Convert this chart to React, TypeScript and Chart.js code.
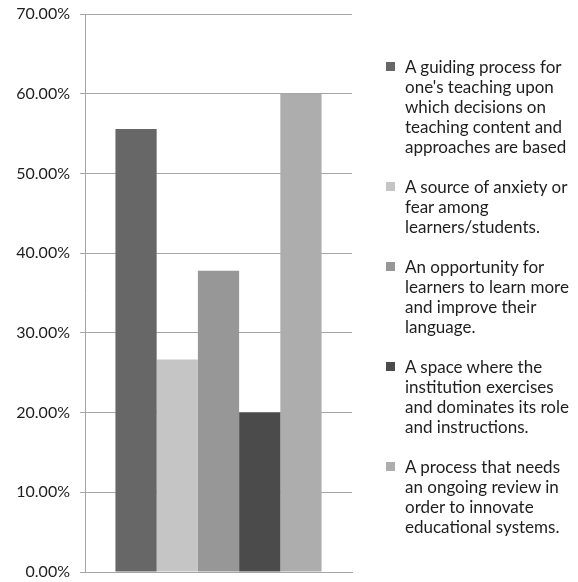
import React, { useEffect, useRef, useState } from "react";
import { Chart, registerables } from "chart.js";

Chart.register(...registerables);

const categories = [""];
const seriesLabels = [
  "A guiding process for\none's teaching upon\nwhich decisions on\nteaching content and\napproaches are based",
  "A source of anxiety or\nfear among\nlearners/students.",
  "An opportunity for\nlearners to learn more\nand improve their\nlanguage.",
  "A space where the\ninstitution exercises\nand dominates its role\nand instructions.",
  "A process that needs\nan ongoing review in\norder to innovate\neducational systems.",
];
const seriesValues = [55.56, 26.67, 37.78, 20.0, 60.0];
const seriesColors = ["#676767", "#c4c5c4", "#979797", "#4b4b4b", "#adadad"];
const yTicks = [0, 10, 20, 30, 40, 50, 60, 70];

const FONT = "Lato, 'DejaVu Sans', sans-serif";
const TEXT = "#1e1e1e";
const GRID = "#a6a6a6";

export default function App() {
  const ref = useRef<HTMLCanvasElement | null>(null);
  const [items, setItems] = useState<{ text: string; color: string }[]>([]);

  useEffect(() => {
    if (!ref.current) return;
    const chart = new Chart(ref.current, {
      type: "bar",
      data: {
        labels: categories,
        datasets: seriesLabels.map((label, i) => ({
          label,
          data: [seriesValues[i]],
          backgroundColor: seriesColors[i],
          borderWidth: 0,
          barPercentage: 1,
          categoryPercentage: 0.772,
        })),
      },
      options: {
        animation: false,
        responsive: false,
        devicePixelRatio: 1,
        layout: { padding: { top: 14, right: 226, bottom: 10, left: 0 } },
        plugins: {
          legend: { display: false },
          tooltip: { enabled: false },
        },
        scales: {
          x: {
            grid: { display: false },
            border: { display: true, color: GRID, width: 1 },
            ticks: { display: false },
            afterFit: (scale: any) => {
              scale.height = 0;
              scale.paddingLeft = 0;
              scale.paddingRight = 0;
            },
          },
          y: {
            min: 0,
            max: 70,
            afterFit: (scale: any) => {
              scale.width = 85;
              scale.paddingTop = 0;
              scale.paddingBottom = 0;
            },
            afterBuildTicks: (scale: any) => {
              scale.ticks = yTicks.map((v) => ({ value: v }));
            },
            grid: {
              color: GRID,
              lineWidth: 1,
              tickLength: 5,
              drawTicks: true,
            },
            border: { display: true, color: GRID, width: 1 },
            ticks: {
              color: TEXT,
              padding: 10,
              font: { family: FONT, size: 16 },
              callback: (v: any) => Number(v).toFixed(2) + "%",
            },
          },
        },
      },
    });
    setItems(
      chart.data.datasets.map((d: any) => ({
        text: d.label as string,
        color: d.backgroundColor as string,
      }))
    );
    return () => chart.destroy();
  }, []);

  return (
    <div
      style={{
        position: "fixed",
        left: 0,
        top: 0,
        width: 578,
        height: 582,
        background: "#fff",
      }}
    >
      <canvas ref={ref} width={578} height={582} style={{ display: "block" }} />
      <div
        style={{
          position: "absolute",
          left: 386,
          top: 57,
          fontFamily: FONT,
          fontSize: 17,
          lineHeight: "20px",
          color: TEXT,
        }}
      >
        {items.map((it, i) => (
          <div
            key={i}
            style={{ display: "flex", alignItems: "flex-start", marginBottom: 20 }}
          >
            <span
              style={{
                width: 9,
                height: 9,
                marginTop: 5,
                background: it.color,
                flex: "none",
              }}
            />
            <span style={{ marginLeft: 10, whiteSpace: "pre" }}>{it.text}</span>
          </div>
        ))}
      </div>
    </div>
  );
}
